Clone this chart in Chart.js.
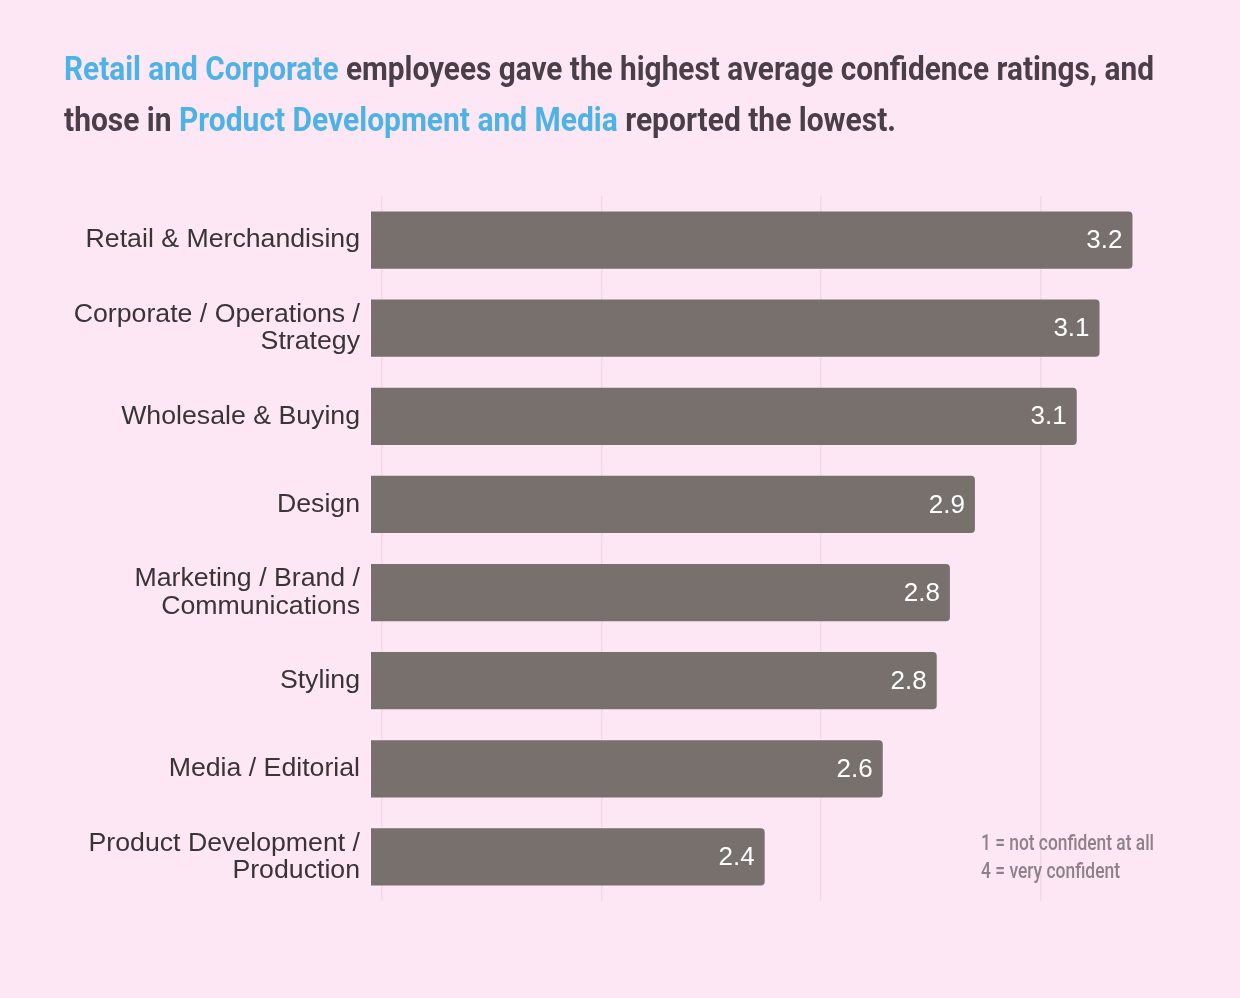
<!DOCTYPE html>
<html>
<head>
<meta charset="utf-8">
<script src="https://cdn.jsdelivr.net/npm/chart.js@4.4.1/dist/chart.umd.min.js"></script>
<style>
  html, body { margin: 0; padding: 0; background: #fde7f4; }
  #wrap { position: relative; width: 1240px; height: 998px; overflow: hidden; }
  #chart { position: absolute; left: 0; top: 0; }
  .title { position: absolute; left: 64px; font-family: Roboto, sans-serif; font-weight: 700;
           font-size: 33px; color: #4a3e48; white-space: nowrap; transform-origin: 0 0; }
  .title .hl { color: #4db3e6; }
  .note { position: absolute; left: 981px; font-family: Roboto, sans-serif; font-weight: 500; font-size: 22px;
          color: #8e8189; white-space: nowrap; transform-origin: 0 0; }
</style>
</head>
<body>
<div id="wrap">
  <canvas id="chart" width="1240" height="998"></canvas>
  <div class="title" id="t1" data-w="1090" style="top:49px"><span class="hl">Retail and Corporate</span> employees gave the highest average confidence ratings, and</div>
  <div class="title" id="t2" data-w="832" style="top:100px">those in <span class="hl">Product Development and Media</span> reported the lowest.</div>
  <div class="note" id="n1" data-w="173" style="top:830px">1 = not confident at all</div>
  <div class="note" id="n2" data-w="139" style="top:858px">4 = very confident</div>
</div>
<script>
// departments, top to bottom
const departments = [
  ["Retail & Merchandising"],
  ["Corporate / Operations /", "Strategy"],
  ["Wholesale & Buying"],
  ["Design"],
  ["Marketing / Brand /", "Communications"],
  ["Styling"],
  ["Media / Editorial"],
  ["Product Development /", "Production"]
];
// average confidence rating (1-4 scale)
const avgConfidence = [3.21, 3.135, 3.083, 2.851, 2.794, 2.764, 2.641, 2.372];
const gridValues = [1.5, 2, 2.5, 3];

// squeeze the condensed-looking text to its width
document.querySelectorAll('[data-w]').forEach(el => {
  const w = el.getBoundingClientRect().width;
  el.style.transform = 'scaleX(' + (parseFloat(el.dataset.w) / w) + ')';
});

const valueLabels = {
  id: 'valueLabels',
  afterDatasetsDraw(chart) {
    const ctx = chart.ctx;
    const meta = chart.getDatasetMeta(0);
    ctx.save();
    ctx.font = '26px "Liberation Sans", Arial, sans-serif';
    ctx.fillStyle = '#ffffff';
    ctx.textAlign = 'right';
    ctx.textBaseline = 'middle';
    meta.data.forEach((bar, i) => {
      ctx.fillText(avgConfidence[i].toFixed(1), bar.x - 10, bar.y + 1);
    });
    ctx.restore();
  }
};

var canvasElement = document.getElementById("chart");
var config = {
  type: "bar",
  data: {
    labels: departments,
    datasets: [{
      data: avgConfidence,
      backgroundColor: "#77706c",
      borderRadius: 4,
      barPercentage: 0.65,
      categoryPercentage: 1
    }]
  },
  options: {
    indexAxis: 'y',
    responsive: false,
    animation: false,
    layout: { padding: { left: 0, right: 79, top: 196, bottom: 97 } },
    plugins: { legend: { display: false }, tooltip: { enabled: false } },
    scales: {
      x: {
        min: 1.475,
        max: 3.275,
        afterBuildTicks: scale => { scale.ticks = gridValues.map(v => ({ value: v })); },
        ticks: { display: false },
        border: { display: false },
        grid: { color: '#f3d9e7', lineWidth: 1.5, drawTicks: false }
      },
      y: {
        afterFit: scale => { scale.width = 371; },
        ticks: {
          padding: 11,
          color: '#3a3437',
          font: { family: '"Liberation Sans", Arial, sans-serif', size: 26.7, lineHeight: 1.02 }
        },
        border: { display: false },
        grid: { display: false, drawTicks: false }
      }
    }
  },
  plugins: [valueLabels]
};

var confChart = new Chart(canvasElement, config);
</script>
</body>
</html>
